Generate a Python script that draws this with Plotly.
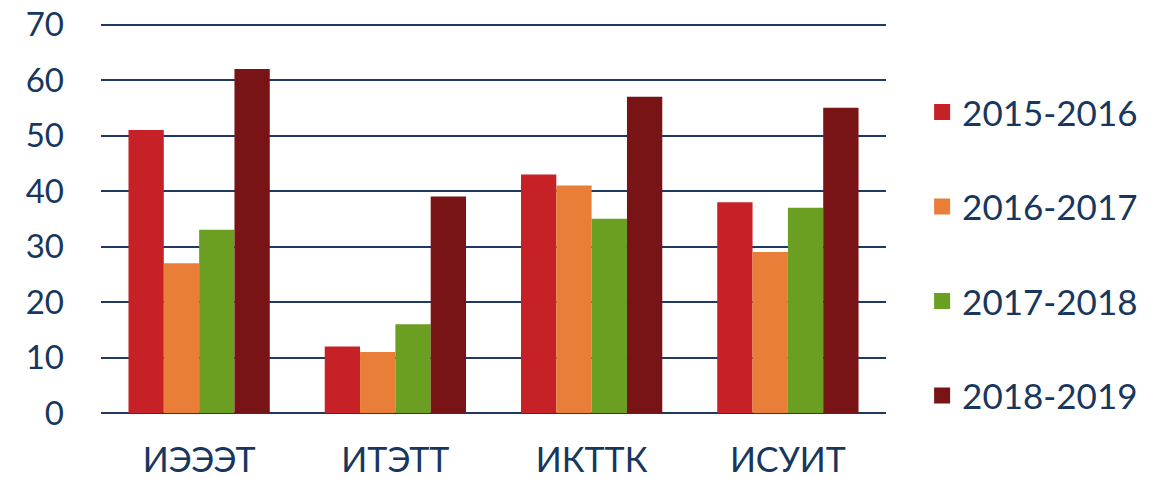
import plotly.graph_objects as go

categories = ["ИЭЭЭТ", "ИТЭТТ", "ИКТТК", "ИСУИТ"]
series_names = ["2015-2016", "2016-2017", "2017-2018", "2018-2019"]
values_2015 = [51, 12, 43, 38]
values_2016 = [27, 11, 41, 29]
values_2017 = [33, 16, 35, 37]
values_2018 = [62, 39, 57, 55]
colors = ["#C62127", "#E87E37", "#6A9F21", "#791416"]

all_values = [values_2015, values_2016, values_2017, values_2018]
text_color = "#17375E"
font_family = "Lato, 'DejaVu Sans', sans-serif"

fig = go.Figure()
for name, vals, col in zip(series_names, all_values, colors):
    fig.add_trace(go.Bar(
        x=categories, y=vals, name=name,
        marker=dict(color=col, line=dict(width=0)),
        legendgroup=name, showlegend=False,
    ))
# legend entries with larger square swatches
for name, col in zip(series_names, colors):
    fig.add_trace(go.Scatter(
        x=[None], y=[None], mode="markers", name=name,
        marker=dict(symbol="square", size=16, color=col),
        legendgroup=name, showlegend=True, hoverinfo="skip",
    ))

fig.update_layout(
    width=1171, height=479,
    paper_bgcolor="white", plot_bgcolor="white",
    margin=dict(l=93, r=293, t=11, b=74, autoexpand=False),
    barmode="group", bargap=0.28, bargroupgap=0,
    font=dict(family=font_family, color=text_color, size=30),
    legend=dict(
        x=1.046, xanchor="left", y=0.404, yanchor="middle",
        font=dict(size=35, color=text_color),
        traceorder="grouped", tracegroupgap=46,
        itemwidth=30,
    ),
    xaxis=dict(
        type="category", categoryorder="array", categoryarray=categories,
        showgrid=False, showline=False, zeroline=False, automargin=False,
        ticks="", ticklabelstandoff=24,
        tickfont=dict(size=34, color=text_color),
    ),
    yaxis=dict(
        range=[0, 71], dtick=10, tick0=0, automargin=False,
        showgrid=True, gridcolor="#1F3864", gridwidth=2,
        zeroline=True, zerolinecolor="#1F3864", zerolinewidth=2,
        showline=False, ticks="", ticklabelstandoff=36,
        ticklabeloverflow="allow",
        tickfont=dict(size=33, color=text_color),
    ),
)

fig.write_html("out.html")
